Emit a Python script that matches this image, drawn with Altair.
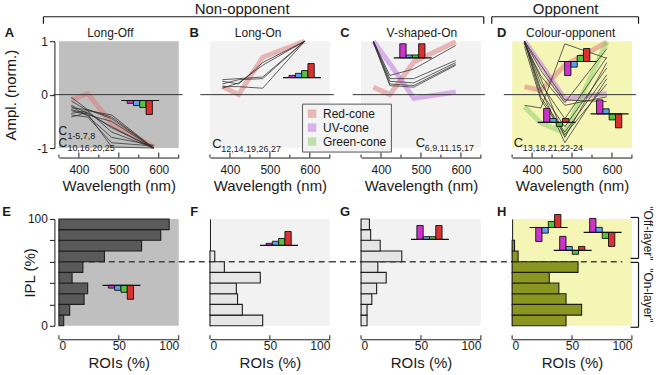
import altair as alt
import pandas as pd

# ---------------------------------------------------------------- data
WAVELENGTHS = [381, 422, 482, 587]
CONES = ["Red-cone", "UV-cone", "Green-cone"]

LONG_OFF_TRACES = [
    [-0.05, -0.28, -0.45, -1.00],
    [-0.12, -0.30, -0.38, -1.00],
    [-0.20, -0.35, -0.60, -1.00],
    [-0.25, -0.28, -0.42, -1.00],
    [-0.30, -0.38, -0.50, -1.00],
    [-0.35, -0.30, -0.70, -1.00],
    [-0.38, -0.42, -0.90, -0.96],
    [-0.28, -0.36, -0.98, -1.00],
    [-0.42, -0.33, -0.62, -1.00],
    [-0.22, -0.40, -0.80, -0.95],
]
LONG_ON_TRACES = [
    [0.15, 0.15, 0.12, 1.00],
    [0.20, 0.28, 0.30, 1.00],
    [0.28, 0.30, 0.33, 1.00],
    [0.12, 0.22, 0.55, 1.00],
    [0.25, 0.20, 0.60, 1.00],
]
V_SHAPED_TRACES = [
    [1.00, 0.36, 0.48, 0.92],
    [1.00, 0.30, 0.30, 0.64],
    [0.98, 0.25, 0.22, 0.60],
    [1.00, 0.20, 0.17, 0.57],
    [0.97, 0.17, 0.14, 0.55],
]
OPPONENT_TRACES = [
    [1.00, 0.45, -0.15, 0.86],
    [1.00, 0.20, -0.45, 0.70],
    [0.98, 0.05, -0.60, 0.50],
    [1.00, -0.05, -0.70, 0.37],
    [0.97, 0.30, -0.80, 0.60],
    [1.00, 0.10, -0.90, 0.30],
    [0.95, 0.35, -0.20, -0.04],
    [1.00, 0.55, -0.10, -0.13],
    [-0.20, -0.25, 0.95, 0.68],
    [0.90, -0.10, -0.75, 0.20],
]

LONG_OFF_CONES = {"Red-cone": [-0.10, 0.02, -0.54, -0.98]}
LONG_ON_CONES = {"Red-cone": [0.15, 0.00, 0.70, 1.00]}
V_SHAPED_CONES = {"Red-cone": [0.14, 0.00, 0.61, 0.99],
                  "UV-cone": [1.00, 0.58, -0.07, 0.05]}
OPPONENT_CONES = {"Red-cone": [0.15, 0.08, 0.55, 0.98],
                  "UV-cone": [1.00, 0.57, -0.08, 0.02],
                  "Green-cone": [-0.23, -0.53, -0.72, 0.99]}

IPL_BIN_START = [0, 10, 20, 30, 40, 50, 60, 70, 80, 90]
LONG_OFF_ROIS = [4, 9, 21, 24, 11, 20, 38, 69, 85, 92]
LONG_ON_ROIS = [44, 27, 23, 22, 42, 12, 4, 0, 0, 0]
V_SHAPED_ROIS = [5, 5, 9, 13, 21, 14, 34, 16, 8, 7]
OPPONENT_ROIS = [45, 58, 45, 39, 31, 55, 5, 2, 0, 0]

# cone-weight glyphs (UV, blue, green, red), normalised
GLYPH_LONG_OFF = [-0.2, -0.36, -0.5, -1.0]
GLYPH_LONG_ON = [0.15, 0.3, 0.5, 1.0]
GLYPH_V_SHAPED = [1.0, 0.2, 0.2, 1.0]
GLYPH_OPP_1 = [-1.0, -0.4, 0.43, 0.93]
GLYPH_OPP_2 = [1.0, 0.28, -0.28, 0.28]
GLYPH_OPP_3 = [1.0, 0.36, -0.43, -1.0]

# ---------------------------------------------------------------- style / layout
FONT = "Liberation Sans"
INK = "#1a1a1a"
CONE_COLOURS = ["#de7676", "#bc6ce4", "#87cd63"]
GLYPH_COLOURS = ["#cc33cc", "#5aa2e8", "#55c43c", "#d93030"]
BG_OFF = "#bfbfbf"
BG_ON = "#f2f2f2"
BG_OPP = "#f5f5b6"

X0, Y0 = 58.5, 40.5
PW, PH = 120, 107
CG, RG = 31.3, 71

ONE = pd.DataFrame({"k": [0]})


def origin(col, row):
    return X0 + col * (PW + CG), Y0 + row * (PH + RG)


def label(col, row, ax, ay, text, size, weight="normal", align="left", angle=0):
    ox, oy = origin(col, row)
    kw = dict(text=text, fontSize=size, fontWeight=weight, align=align,
              baseline="middle", color=INK, font=FONT)
    if angle:
        kw["angle"] = angle
    return alt.Chart(ONE).mark_text(**kw).encode(
        x=alt.value(ax - ox), y=alt.value(ay - oy))


def seg(col, row, ax1, ay1, ax2, ay2, width=1.2, opacity=1.0):
    ox, oy = origin(col, row)
    return alt.Chart(ONE).mark_rule(color=INK, strokeWidth=width, opacity=opacity).encode(
        x=alt.value(ax1 - ox), y=alt.value(ay1 - oy),
        x2=alt.value(ax2 - ox), y2=alt.value(ay2 - oy))


def glyph_layers(X, Y, anchors, px_x, px_y):
    rects, bases = [], []
    for (ax, ay, weights) in anchors:
        for i, w in enumerate(weights):
            x0 = ax + (6 + i * 6.3) * px_x
            rects.append({"x0": x0, "x1": x0 + 6.3 * px_x, "y0": ay,
                          "y1": ay + w * 14 * px_y, "fill": GLYPH_COLOURS[i]})
        bases.append({"x0": ax, "x1": ax + 38 * px_x, "y": ay})
    r = alt.Chart(pd.DataFrame(rects)).mark_rect(stroke="#111", strokeWidth=0.9).encode(
        x=X("x0:Q"), x2="x1", y=Y("y0:Q"), y2="y1", fill=alt.Fill("fill:N", scale=None))
    b = alt.Chart(pd.DataFrame(bases)).mark_rule(color="#111", strokeWidth=1.2).encode(
        x=X("x0:Q"), x2="x1", y=Y("y:Q"))
    return [r, b]


LEGEND = alt.Legend(title=None, orient="none", legendX=302 - X0, legendY=103 - Y0,
                    symbolType="square", symbolStrokeWidth=5, symbolSize=12,
                    symbolOpacity=0.5, labelFontSize=12, labelFont=FONT, labelColor=INK,
                    strokeColor="#555", fillColor="#f4f4f4", padding=4, rowPadding=2,
                    clipHeight=12, labelOffset=5)


def top_panel(col, traces, cones, glyphs, bg, texts, zero_from):
    xs = alt.Scale(domain=[350, 650], nice=False, zero=False)
    ys = alt.Scale(domain=[-1, 1], nice=False, zero=False)
    xaxis = alt.Axis(values=list(range(350, 651, 50)),
                     labelExpr="datum.value % 100 == 0 ? datum.label : ''",
                     ticks=False, tickSize=0, offset=9.5, labelPadding=7,
                     labelOverlap=False, labelFlush=False,
                     title="Wavelength (nm)", titlePadding=3)
    if col == 0:
        yaxis = alt.Axis(values=[-1, 0, 1], labelExpr="'' + datum.value",
                         offset=4.5, tickSize=5, labelPadding=2,
                         title="Ampl. (norm.)", titleX=-44, titleBaseline="middle")
    else:
        yaxis = None

    def X(f):
        return alt.X(f, scale=xs, axis=xaxis)

    def Y(f):
        return alt.Y(f, scale=ys, axis=yaxis)

    crow = [{"cone": c, "wl": w, "amp": a}
            for c, vals in cones.items() for w, a in zip(WAVELENGTHS, vals)]
    trow = [{"id": i, "wl": w, "amp": a}
            for i, vals in enumerate(traces) for w, a in zip(WAVELENGTHS, vals)]
    layers = []
    layers.append(alt.Chart(pd.DataFrame(crow)).mark_line(strokeWidth=5, opacity=0.5).encode(
        x=X("wl:Q"), y=Y("amp:Q"),
        color=alt.Color("cone:N", scale=alt.Scale(domain=CONES, range=CONE_COLOURS),
                        legend=LEGEND)))
    layers.append(alt.Chart(pd.DataFrame(trow)).mark_line(
        color="#2e2e2e", strokeWidth=1, opacity=0.75).encode(
        x=X("wl:Q"), y=Y("amp:Q"), detail="id:N"))
    zdf = pd.DataFrame({"x0": [zero_from], "x1": [660], "y": [0]})
    layers.append(alt.Chart(zdf).mark_rule(color="#333", strokeWidth=1).encode(
        x=X("x0:Q"), x2="x1", y=Y("y:Q")))
    layers += glyph_layers(X, Y, glyphs, 1 / 0.4, 2 / PH)
    tdf = pd.DataFrame({"v": list(range(350, 651, 50))})
    tdf["major"] = tdf["v"] % 100 == 0
    axis_y = PH + 9.5
    layers.append(alt.Chart(tdf[tdf["major"]]).mark_rule(color=INK, strokeWidth=1).encode(
        x=X("v:Q"), y=alt.value(axis_y), y2=alt.value(axis_y - 5)))
    layers.append(alt.Chart(tdf[~tdf["major"]]).mark_rule(color=INK, strokeWidth=1).encode(
        x=X("v:Q"), y=alt.value(axis_y), y2=alt.value(axis_y - 3)))
    layers += texts
    return alt.layer(*layers).properties(
        width=PW, height=PH, view=alt.ViewBackground(fill=bg, strokeWidth=0))


def bottom_panel(col, rois, glyphs, bg, bar_fill, texts, dash_from, dash_to):
    xs = alt.Scale(domain=[0, 100], nice=False, zero=False)
    ys = alt.Scale(domain=[0, 100], nice=False, zero=False)
    xaxis = alt.Axis(values=[0, 50, 100], ticks=False, tickSize=0, offset=13.5,
                     labelPadding=1, labelOverlap=False, title="ROIs (%)", titlePadding=4)
    if col == 0:
        yaxis = alt.Axis(values=[0, 20, 40, 60, 80, 100],
                         labelExpr="datum.value == 0 || datum.value == 100 ? datum.label : ''",
                         offset=4.5, tickSize=5, labelPadding=2, labelOverlap=False,
                         title="IPL (%)", titleX=-25, titleBaseline="middle")
    else:
        yaxis = alt.Axis(labels=False, ticks=False, title="", offset=0, domain=True)

    def X(f):
        return alt.X(f, scale=xs, axis=xaxis)

    def Y(f):
        return alt.Y(f, scale=ys, axis=yaxis)

    layers = []
    ddf = pd.DataFrame({"x0": [dash_from], "x1": [dash_to], "y": [60]})
    layers.append(alt.Chart(ddf).mark_rule(color="#444", strokeWidth=1.6,
                                           strokeDash=[6, 4]).encode(
        x=X("x0:Q"), x2="x1", y=Y("y:Q")))
    bdf = pd.DataFrame({"lo": IPL_BIN_START, "pct": rois})
    bdf["hi"] = bdf["lo"] + 10
    bdf["base"] = 0
    bdf = bdf[bdf["pct"] > 0]
    layers.append(alt.Chart(bdf).mark_rect(fill=bar_fill, stroke="#1e1e1e",
                                           strokeWidth=1.1).encode(
        x=X("base:Q"), x2="pct", y=Y("lo:Q"), y2="hi"))
    layers += glyph_layers(X, Y, glyphs, 100 / PW, 100 / PH)
    tdf = pd.DataFrame({"v": [0, 50, 100]})
    axis_y = PH + 13.5
    layers.append(alt.Chart(tdf).mark_rule(color=INK, strokeWidth=1).encode(
        x=X("v:Q"), y=alt.value(axis_y), y2=alt.value(axis_y - 4)))
    layers += texts
    return alt.layer(*layers).properties(
        width=PW, height=PH, view=alt.ViewBackground(fill=bg, strokeWidth=0))


# ---------------------------------------------------------------- annotations
def c_label(col, ax, ay, sub, size=13):
    return [label(col, 0, ax, ay, "C", size),
            label(col, 0, ax + 9, ay + 5, sub, 9)]


a_texts = (
    [label(0, 0, 9, 32, "A", 13, "bold", "center"),
     label(0, 0, 110, 32, "Long-Off", 12, align="center"),
     label(0, 0, 242, 8, "Non-opponent", 15, align="center"),
     seg(0, 0, 43, 16, 484, 16), seg(0, 0, 43, 16, 43, 23), seg(0, 0, 484, 16, 484, 23),
     seg(0, 0, 0, 0, 656, 375, opacity=0)]
    + c_label(0, 58, 130, "1-5,7,8", 12) + c_label(0, 58, 142.5, "10,16,20,25", 12)
)
b_texts = ([label(1, 0, 194, 32, "B", 13, "bold", "center"),
            label(1, 0, 258, 32, "Long-On", 12, align="center")]
           + c_label(1, 212, 143, "12,14,19,26,27"))
c_texts = ([label(2, 0, 345, 32, "C", 13, "bold", "center"),
            label(2, 0, 422, 32, "V-shaped-On", 12, align="center")]
           + c_label(2, 416, 142, "6,9,11,15,17"))
d_texts = ([label(3, 0, 502, 32, "D", 13, "bold", "center"),
            label(3, 0, 571, 32, "Colour-opponent", 12, align="center"),
            label(3, 0, 566, 8, "Opponent", 15, align="center"),
            seg(3, 0, 492, 16, 639, 16), seg(3, 0, 492, 16, 492, 23),
            seg(3, 0, 639, 16, 639, 23)]
           + c_label(3, 514, 142, "13,18,21,22-24"))
e_texts = [label(0, 1, 6, 212, "E", 13, "bold", "center")]
f_texts = [label(1, 1, 194, 212, "F", 13, "bold", "center")]
g_texts = [label(2, 1, 345, 212, "G", 13, "bold", "center")]
h_texts = [label(3, 1, 502, 212, "H", 13, "bold", "center"),
           seg(3, 1, 639, 217, 639, 258), seg(3, 1, 631, 217, 639, 217),
           seg(3, 1, 631, 258, 639, 258),
           seg(3, 1, 639, 262, 639, 327), seg(3, 1, 631, 262, 639, 262),
           seg(3, 1, 631, 327, 639, 327),
           label(3, 1, 648, 233, '"Off-layer"', 12, align="center", angle=90),
           label(3, 1, 648, 295, '"On-layer"', 12, align="center", angle=90)]

# ---------------------------------------------------------------- panels
panels = [
    top_panel(0, LONG_OFF_TRACES, LONG_OFF_CONES, [(506, -0.11, GLYPH_LONG_OFF)],
              BG_OFF, a_texts, 336),
    top_panel(1, LONG_ON_TRACES, LONG_ON_CONES, [(533, 0.32, GLYPH_LONG_ON)],
              BG_ON, b_texts, 326),
    top_panel(2, V_SHAPED_TRACES, V_SHAPED_CONES, [(432, 0.69, GLYPH_V_SHAPED)],
              BG_ON, c_texts, 329),
    top_panel(3, OPPONENT_TRACES, OPPONENT_CONES,
              [(466.5, 0.62, GLYPH_OPP_1), (414, -0.52, GLYPH_OPP_2),
               (546.5, -0.36, GLYPH_OPP_3)], BG_OPP, d_texts, 329),
    bottom_panel(0, LONG_OFF_ROIS, [(36.3, 37.9, GLYPH_LONG_OFF)], BG_OFF, "#5a5a5a",
                 e_texts, 0, 100),
    bottom_panel(1, LONG_ON_ROIS, [(41.8, 75.2, GLYPH_LONG_ON)], BG_ON, "#e6e6e6",
                 f_texts, -26, 100),
    bottom_panel(2, V_SHAPED_ROIS, [(41.6, 80.8, GLYPH_V_SHAPED)], BG_ON, "#e6e6e6",
                 g_texts, -26, 100),
    bottom_panel(3, OPPONENT_ROIS, [(14.7, 92, GLYPH_OPP_1), (59.7, 87.4, GLYPH_OPP_3),
                                    (34.7, 70.6, GLYPH_OPP_2)], BG_OPP, "#8a961f",
                 h_texts, -26, 92),
]

chart = alt.concat(
    *panels, columns=4, spacing={"row": RG, "column": CG}, bounds="flush", padding=0
).resolve_scale(
    x="independent", y="independent", color="shared"
).resolve_legend(color="shared").configure(
    font=FONT
).configure_view(strokeWidth=0).configure_axis(
    grid=False, labelFont=FONT, titleFont=FONT, labelFontSize=12, titleFontSize=15,
    titleFontWeight="normal", labelColor=INK, titleColor=INK, domainColor=INK,
    tickColor=INK, domainWidth=1
).configure_legend(clipHeight=12, rowPadding=2)

chart.save("out.html", embed_options={"renderer": "svg", "actions": False})
